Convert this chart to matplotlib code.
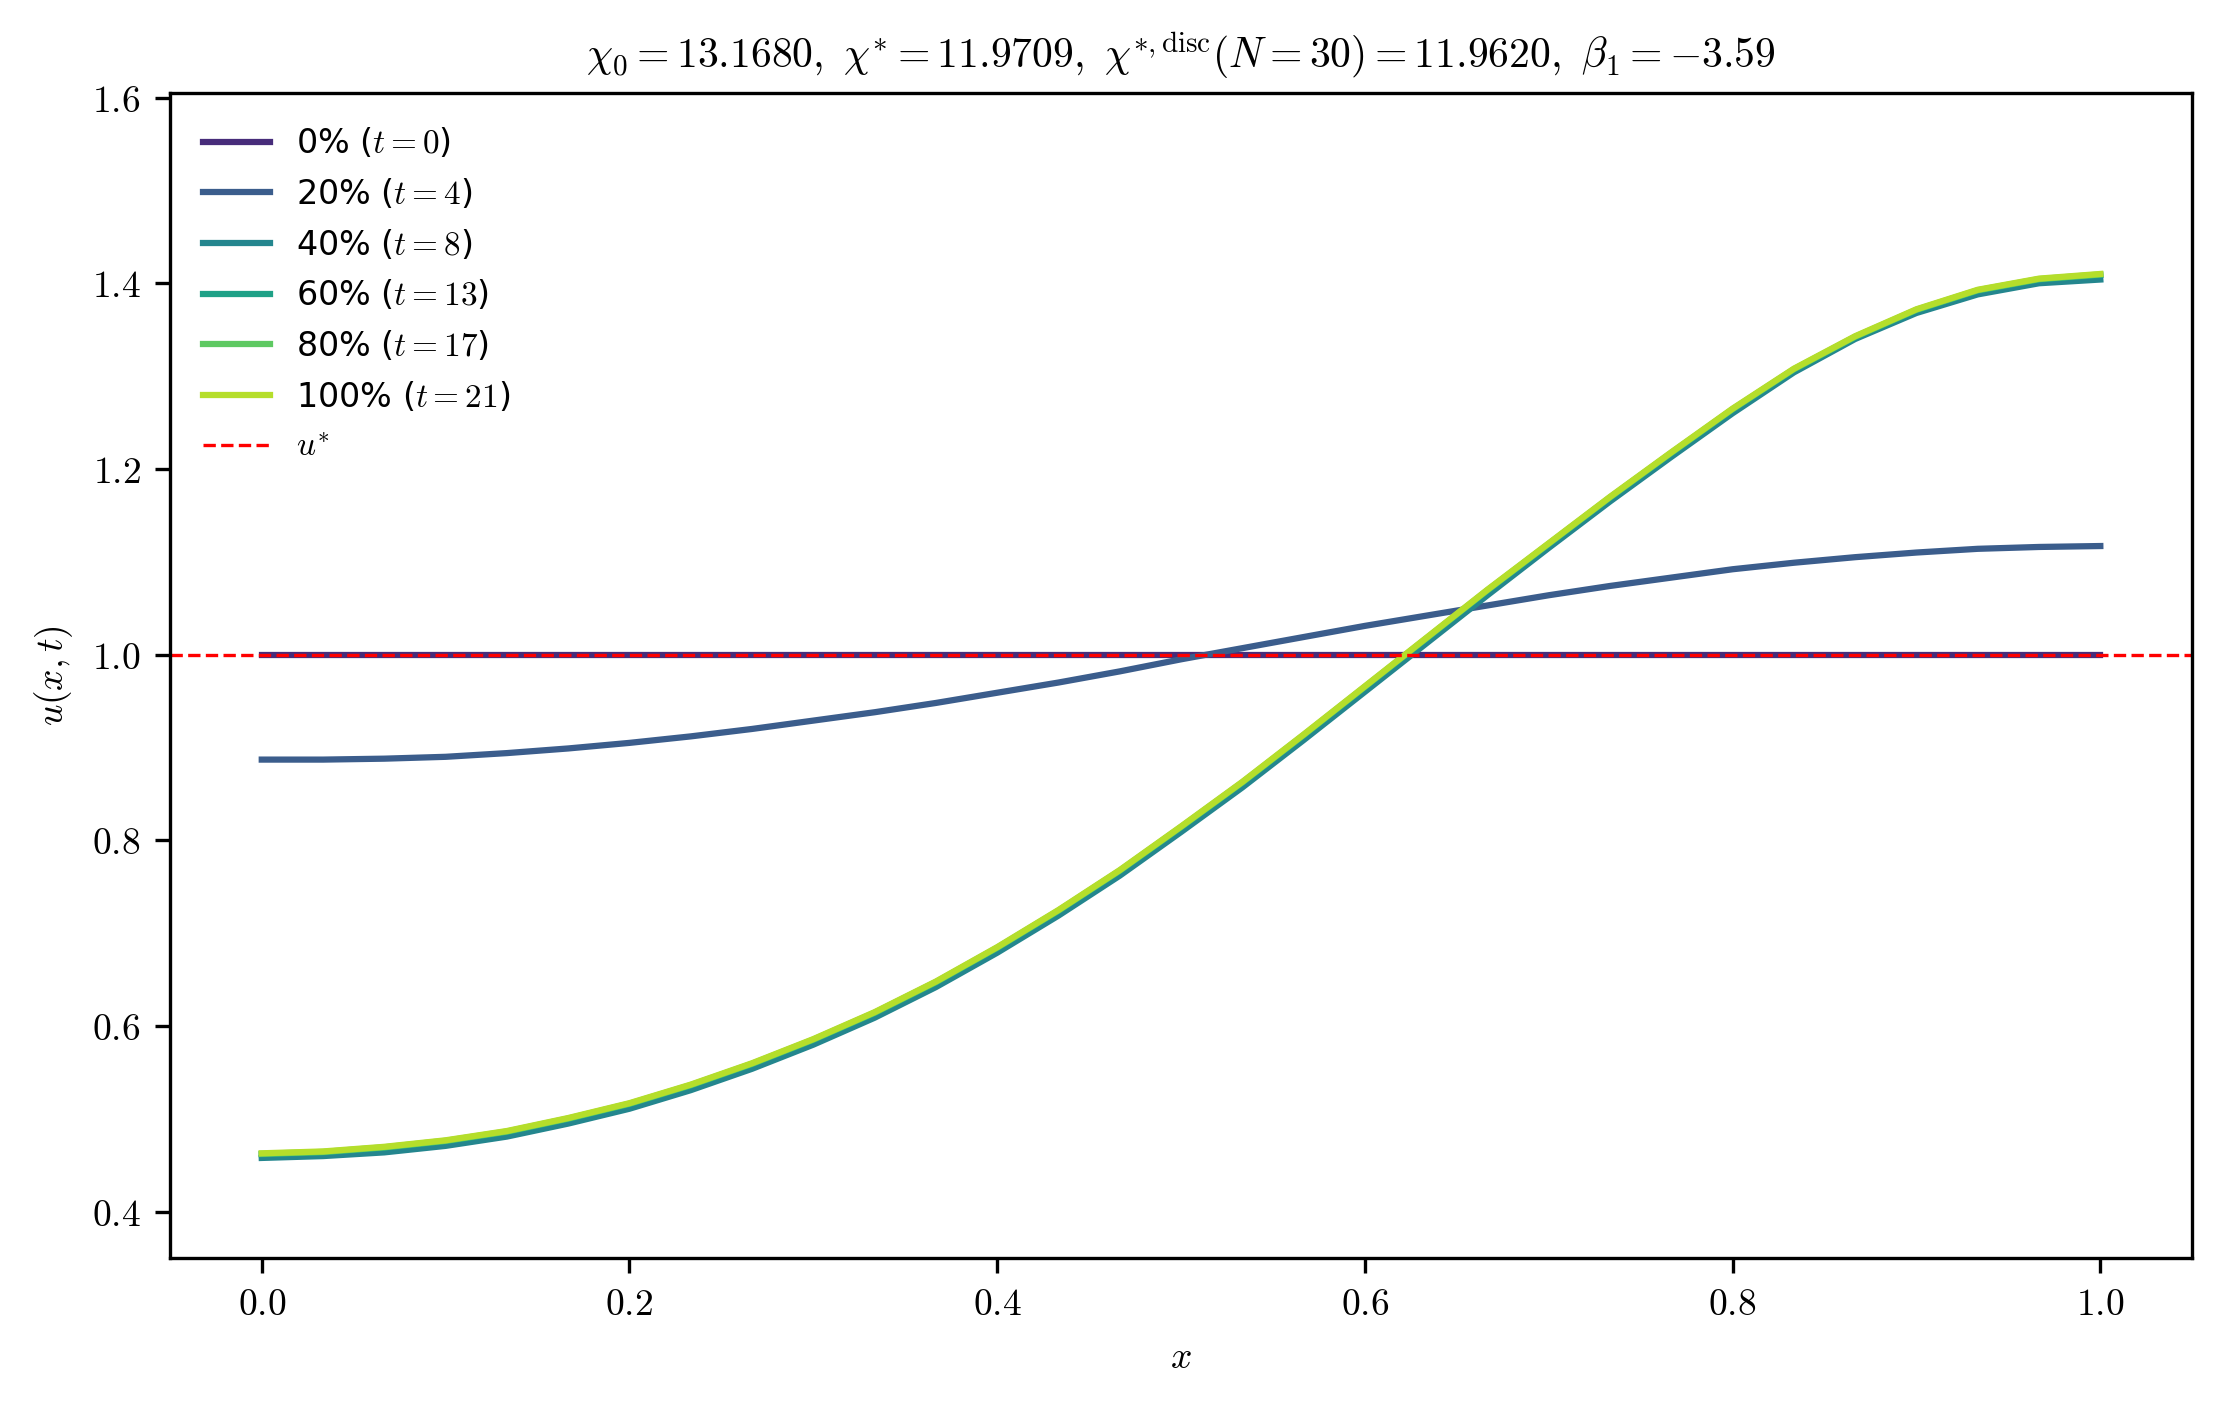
import numpy as np
import matplotlib
matplotlib.use("Agg")
import matplotlib.pyplot as plt
from matplotlib.ticker import FuncFormatter

plt.rcParams["mathtext.fontset"] = "cm"
plt.rcParams["font.size"] = 8

x = np.linspace(0, 1, 31)
u_t0 = [1.0] * 31
u_t4 = [0.887, 0.887, 0.888, 0.890, 0.894, 0.899, 0.905, 0.912, 0.920, 0.929, 0.938,
        0.948, 0.959, 0.970, 0.982, 0.995, 1.007, 1.019, 1.031, 1.042, 1.053, 1.064,
        1.074, 1.083, 1.092, 1.099, 1.105, 1.110, 1.114, 1.116, 1.117]
u_t21 = [0.463, 0.465, 0.470, 0.477, 0.487, 0.501, 0.517, 0.537, 0.560, 0.586, 0.615,
         0.648, 0.685, 0.725, 0.768, 0.815, 0.863, 0.914, 0.966, 1.018, 1.070, 1.120,
         1.170, 1.218, 1.265, 1.308, 1.343, 1.372, 1.393, 1.405, 1.410]
u_t8 = [0.458, 0.460, 0.464, 0.471, 0.481, 0.495, 0.511, 0.531, 0.554, 0.580, 0.609,
        0.642, 0.679, 0.719, 0.762, 0.809, 0.857, 0.908, 0.960, 1.012, 1.064, 1.115,
        1.165, 1.213, 1.260, 1.304, 1.340, 1.368, 1.388, 1.400, 1.404]
u_t13 = [v - 0.001 for v in u_t21]
u_t17 = [v - 0.0005 for v in u_t21]

pcts = [0, 20, 40, 60, 80, 100]
times = [0, 4, 8, 13, 17, 21]
curves = [u_t0, u_t4, u_t8, u_t13, u_t17, u_t21]
colors = ["#472c7a", "#3b5d8c", "#24868e", "#1fa187", "#5ec962", "#b5de2b"]

fig = plt.figure(figsize=(7.4, 4.697), dpi=300)
ax = fig.add_axes([0.0765, 0.107, 0.911, 0.827])
for p, t, u, c in zip(pcts, times, curves, colors):
    ax.plot(x, u, color=c, lw=1.5, label=f"{p}% ($t={t}$)")
ax.axhline(1.0, color="red", ls="--", lw=0.8, label="$u^{*}$")

ax.set_xlim(-0.05, 1.05)
ax.set_ylim(0.35, 1.605)
ax.set_xticks([0, 0.2, 0.4, 0.6, 0.8, 1.0])
ax.set_yticks([0.4, 0.6, 0.8, 1.0, 1.2, 1.4, 1.6])
fmt = FuncFormatter(lambda v, _: f"${v:.1f}$")
ax.xaxis.set_major_formatter(fmt)
ax.yaxis.set_major_formatter(fmt)
ax.tick_params(labelsize=9)
ax.set_xlabel("$x$", fontsize=9)
ax.set_ylabel("$u(x,t)$", fontsize=9)
ax.set_title(r"$\chi_0=13.1680,\ \chi^{*}=11.9709,\ \chi^{*,\mathrm{disc}}(N=30)=11.9620,\ \beta_1=-3.59$",
             fontsize=10)
ax.legend(loc="upper left", frameon=False, fontsize=8, borderaxespad=0.6)
fig.savefig("out.png", dpi=300)
